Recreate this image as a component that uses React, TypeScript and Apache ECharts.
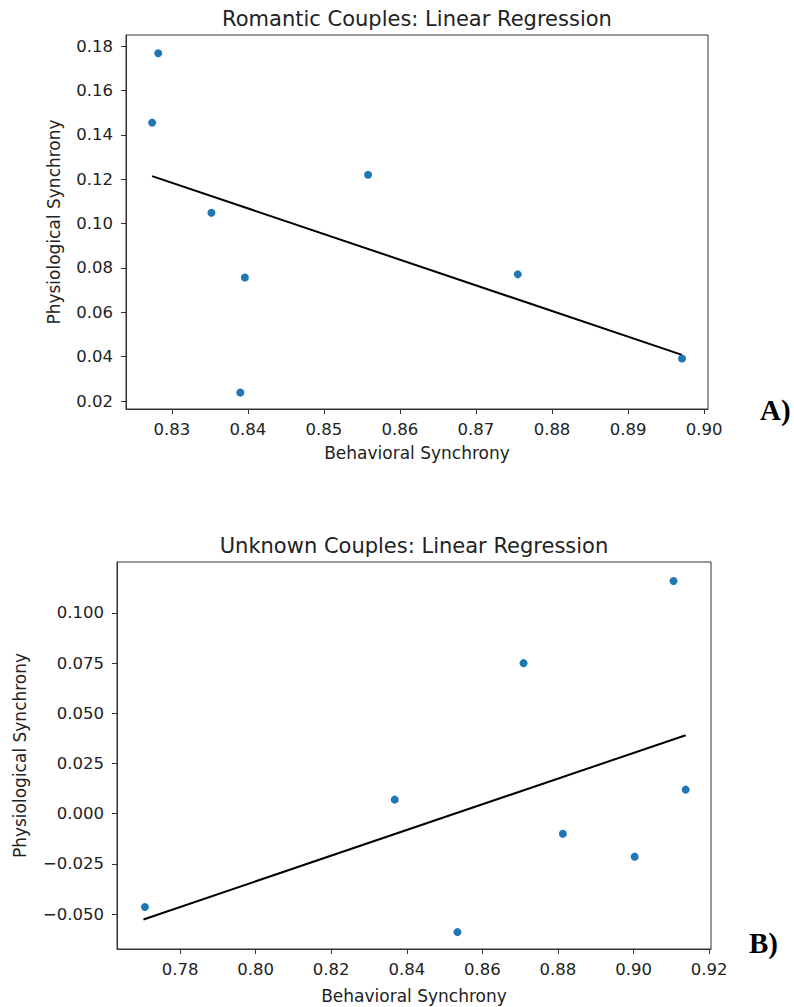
import React, { useEffect, useRef } from "react";
import * as echarts from "echarts";

// Panel A: Romantic couples
const romanticBehavioral = [0.8282, 0.8274, 0.8352, 0.8558, 0.8396, 0.839, 0.8755, 0.8971];
const romanticPhysiological = [0.1768, 0.1455, 0.1049, 0.122, 0.0757, 0.0238, 0.0771, 0.0392];
const romanticFitX = [0.8274, 0.8971];
const romanticFitY = [0.1214, 0.0408];
const romanticXTicks = [0.83, 0.84, 0.85, 0.86, 0.87, 0.88, 0.89, 0.9];
const romanticYTicks = [0.02, 0.04, 0.06, 0.08, 0.1, 0.12, 0.14, 0.16, 0.18];

// Panel B: Unknown couples
const unknownBehavioral = [0.7707, 0.8368, 0.8534, 0.8709, 0.8813, 0.9003, 0.9106, 0.9138];
const unknownPhysiological = [-0.0465, 0.007, -0.059, 0.075, -0.01, -0.0214, 0.1159, 0.012];
const unknownFitX = [0.7703, 0.9138];
const unknownFitY = [-0.0527, 0.0391];
const unknownXTicks = [0.78, 0.8, 0.82, 0.84, 0.86, 0.88, 0.9, 0.92];
const unknownYTicks = [-0.05, -0.025, 0, 0.025, 0.05, 0.075, 0.1];

const FONT = "DejaVu Sans";
const TEXT = "#222";
const AXIS = "#333";
const DOT = "#1f77b4";

const fmt = (d: number) => (v: number) =>
  v < 0 ? "\u2212" + Math.abs(v).toFixed(d) : v.toFixed(d);

function axisCommon(gridIndex: number, ticks: number[], min: number, max: number, decimals: number, name: string, nameGap: number) {
  return {
    type: "value",
    gridIndex,
    min,
    max,
    name,
    nameLocation: "middle",
    nameGap,
    nameTextStyle: { fontFamily: FONT, fontSize: 17, color: TEXT },
    axisLine: { show: true, onZero: false, lineStyle: { color: AXIS, width: 1 } },
    axisTick: { show: true, length: 5, lineStyle: { color: AXIS, width: 1 }, customValues: ticks },
    axisLabel: {
      show: true,
      customValues: ticks,
      formatter: fmt(decimals),
      fontFamily: FONT,
      fontSize: 16.5,
      color: TEXT,
      margin: 12,
    },
    splitLine: { show: false },
  };
}

export default function App() {
  const ref = useRef<HTMLDivElement>(null);
  useEffect(() => {
    const chart = echarts.init(ref.current!, null, { renderer: "svg" });
    const xA = axisCommon(0, romanticXTicks, 0.82396, 0.90052, 2, "Behavioral Synchrony", 35);
    const yA = axisCommon(0, romanticYTicks, 0.0164, 0.185, 2, "Physiological Synchrony", 64);
    const xB = axisCommon(1, unknownXTicks, 0.7633, 0.9205, 2, "Behavioral Synchrony", 38);
    const yB = axisCommon(1, unknownYTicks, -0.0674, 0.1254, 3, "Physiological Synchrony", 89);
    (yA as any).axisLabel.margin = 13;
    (yB as any).axisLabel.margin = 13;
    const option: any = {
      animation: false,
      backgroundColor: "#fff",
      grid: [
        { left: 126, top: 35, width: 582, height: 374, show: true, borderColor: AXIS, borderWidth: 1, containLabel: false },
        { left: 117, top: 562, width: 594, height: 387, show: true, borderColor: AXIS, borderWidth: 1, containLabel: false },
      ],
      xAxis: [xA, xB],
      yAxis: [yA, yB],
      series: [
        {
          type: "line",
          xAxisIndex: 0,
          yAxisIndex: 0,
          data: romanticFitX.map((x, i) => [x, romanticFitY[i]]),
          symbol: "none",
          lineStyle: { color: "#000", width: 2 },
          z: 2,
        },
        {
          type: "scatter",
          xAxisIndex: 0,
          yAxisIndex: 0,
          data: romanticBehavioral.map((x, i) => [x, romanticPhysiological[i]]),
          symbolSize: 8,
          itemStyle: { color: DOT, opacity: 1 },
          z: 3,
        },
        {
          type: "line",
          xAxisIndex: 1,
          yAxisIndex: 1,
          data: unknownFitX.map((x, i) => [x, unknownFitY[i]]),
          symbol: "none",
          lineStyle: { color: "#000", width: 2 },
          z: 2,
        },
        {
          type: "scatter",
          xAxisIndex: 1,
          yAxisIndex: 1,
          data: unknownBehavioral.map((x, i) => [x, unknownPhysiological[i]]),
          symbolSize: 8,
          itemStyle: { color: DOT, opacity: 1 },
          z: 3,
        },
      ],
      graphic: [
        {
          type: "text",
          x: 417,
          y: 19,
          style: { text: "Romantic Couples: Linear Regression", fontFamily: FONT, fontSize: 21, fill: TEXT, textAlign: "center", textVerticalAlign: "middle" },
        },
        {
          type: "text",
          x: 414,
          y: 546,
          style: { text: "Unknown Couples: Linear Regression", fontFamily: FONT, fontSize: 21, fill: TEXT, textAlign: "center", textVerticalAlign: "middle" },
        },
        {
          type: "text",
          x: 760,
          y: 410,
          style: { text: "A)", fontFamily: "Liberation Serif", fontWeight: "bold", fontSize: 29, fill: "#000", textAlign: "left", textVerticalAlign: "middle" },
        },
        {
          type: "text",
          x: 749,
          y: 943,
          style: { text: "B)", fontFamily: "Liberation Serif", fontWeight: "bold", fontSize: 29, fill: "#000", textAlign: "left", textVerticalAlign: "middle" },
        },
      ],
    };
    chart.setOption(option);
    return () => chart.dispose();
  }, []);
  return (
    <div
      ref={ref}
      style={{ position: "fixed", left: 0, top: 0, width: 794, height: 1007, background: "#fff" }}
    />
  );
}
